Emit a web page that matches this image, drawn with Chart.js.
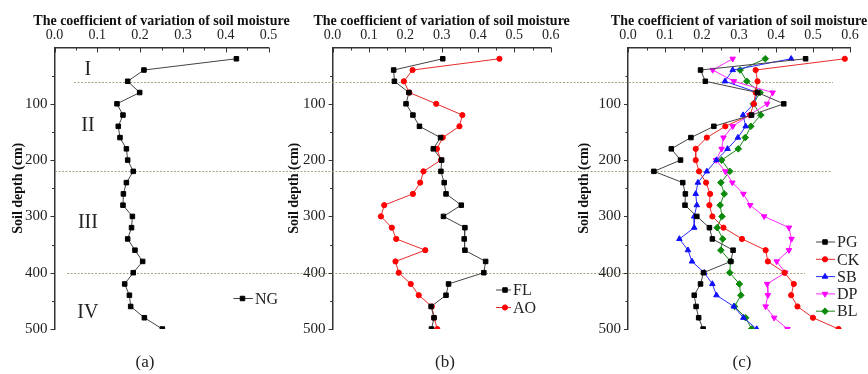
<!DOCTYPE html>
<html>
<head>
<meta charset="utf-8">
<script src="https://cdn.jsdelivr.net/npm/chart.js@4.4.1/dist/chart.umd.min.js"></script>
<style>
    body { margin: 0; background: #fff; width: 868px; height: 374px; overflow: hidden; position: relative; }
    .panel { position: absolute; top: 0; height: 374px; }
    canvas { display: block; }
</style>
</head>
<body>
<div class="panel" style="left:0;width:300px"><canvas id="chart-a"></canvas></div>
<div class="panel" style="left:284px;width:296px"><canvas id="chart-b"></canvas></div>
<div class="panel" style="left:572px;width:296px"><canvas id="chart-c"></canvas></div>
<script>
// Soil depth (cm) of each sample, top to bottom
const depths = [20, 40, 60, 80, 100, 120, 140, 160, 180, 200, 220, 240, 260,
                280, 300, 320, 340, 360, 380, 400, 420, 440, 460, 480, 500];

// (a)
const ngValues = [0.425, 0.209, 0.171, 0.199, 0.146, 0.160, 0.149, 0.153, 0.168, 0.171, 0.184, 0.168, 0.161,
                  0.160, 0.182, 0.180, 0.171, 0.188, 0.206, 0.184, 0.164, 0.175, 0.178, 0.210, 0.252];
// (b)
const flValues = [0.303, 0.168, 0.170, 0.210, 0.202, 0.221, 0.239, 0.297, 0.277, 0.300, 0.298, 0.307, 0.312,
                  0.354, 0.305, 0.364, 0.362, 0.364, 0.421, 0.416, 0.319, 0.312, 0.271, 0.279, 0.272];
const aoValues = [0.459, 0.220, 0.196, 0.211, 0.285, 0.357, 0.349, 0.303, 0.287, 0.298, 0.250, 0.241, 0.221,
                  0.142, 0.133, 0.163, 0.175, 0.255, 0.173, 0.182, 0.215, 0.237, 0.273, 0.279, 0.288];
// (c)
const pgValues = [0.480, 0.196, 0.209, 0.350, 0.421, 0.334, 0.232, 0.170, 0.117, 0.142, 0.070, 0.148, 0.155,
                  0.154, 0.186, 0.220, 0.228, 0.284, 0.278, 0.204, 0.196, 0.179, 0.184, 0.191, 0.203];
const ckValues = [0.586, 0.345, 0.350, 0.345, 0.340, 0.330, 0.263, 0.213, 0.183, 0.183, 0.192, 0.211, 0.222,
                  0.220, 0.228, 0.258, 0.308, 0.372, 0.378, 0.423, 0.448, 0.441, 0.458, 0.500, 0.569];
const sbValues = [0.441, 0.283, 0.262, 0.350, 0.340, 0.311, 0.318, 0.297, 0.269, 0.239, 0.213, 0.189, 0.183,
                  0.186, 0.179, 0.179, 0.139, 0.162, 0.173, 0.206, 0.228, 0.239, 0.286, 0.312, 0.348];
const dpValues = [0.283, 0.229, 0.286, 0.391, 0.376, 0.328, 0.283, 0.258, 0.253, 0.238, 0.263, 0.282, 0.312,
                  0.330, 0.368, 0.435, 0.442, 0.435, 0.402, 0.425, 0.376, 0.378, 0.372, 0.395, 0.431];
const blValues = [0.371, 0.303, 0.321, 0.357, 0.339, 0.359, 0.332, 0.317, 0.298, 0.253, 0.275, 0.251, 0.260,
                  0.249, 0.254, 0.241, 0.256, 0.251, 0.277, 0.275, 0.301, 0.305, 0.288, 0.318, 0.334];

// Layer boundaries (cm) and layer names
const layerBounds = [62, 220, 400];
const layerNames = ['I', 'II', 'III', 'IV'];
const layerNameDepths = [40, 139, 312, 471];

const xTitle = 'The coefficient of variation of soil moisture';
const yTitle = 'Soil depth (cm)';

const FONT = "'Liberation Serif', 'Times New Roman', 'DejaVu Serif', serif";

/**
 * One depth profile as a scatter line
 */
function series(label, values, color, lineColor, style, radius, rotation) {
    return {
        label: label,
        data: depths.map((d, i) => ({ x: values[i], y: d })),
        showLine: true,
        borderColor: lineColor,
        borderWidth: 1,
        backgroundColor: color,
        pointBackgroundColor: color,
        pointBorderColor: color,
        pointBorderWidth: 1,
        pointStyle: style,
        pointRadius: radius,
        pointHoverRadius: radius,
        pointRotation: rotation || 0
    };
}

/**
 * Decorations: top title, inner/outer ticks, boundary lines, legend, labels
 */
const decor = {
    id: 'decor',
    beforeDatasetsDraw(chart, args, o) {
        const { ctx, scales: { y } } = chart;
        ctx.save();
        ctx.strokeStyle = 'rgba(150, 150, 105, 0.85)';
        ctx.lineWidth = 1;
        ctx.setLineDash([2, 1.5]);
        layerBounds.forEach((d, i) => {
            const from = Math.max(o.spans[i][0], o.own[0]) - o.pageLeft;
            const to = Math.min(o.spans[i][1], o.own[1]) - o.pageLeft;
            if (to <= from) return;
            const py = Math.round(y.getPixelForValue(d)) + 0.5;
            ctx.beginPath();
            ctx.moveTo(from, py);
            ctx.lineTo(to, py);
            ctx.stroke();
        });
        ctx.restore();
    },
    afterDraw(chart, args, o) {
        const { ctx, chartArea: a, scales: { x, y } } = chart;
        ctx.save();

        // x title above tick labels
        ctx.fillStyle = '#111';
        ctx.font = `bold 14px ${FONT}`;
        ctx.textAlign = 'center';
        ctx.textBaseline = 'alphabetic';
        ctx.fillText(xTitle, (a.left + a.right) / 2, 25);

        // ticks: x inward, y outward
        ctx.strokeStyle = '#333';
        ctx.lineWidth = 1;
        const nx = Math.round(x.max / 0.05);
        for (let i = 0; i <= nx; i++) {
            const px = Math.round(x.getPixelForValue(i * 0.05)) + 0.5;
            const len = i % 2 === 0 ? 5 : 3;
            ctx.beginPath();
            ctx.moveTo(px, a.top);
            ctx.lineTo(px, a.top + len);
            ctx.stroke();
        }
        for (let v = 50; v <= y.max; v += 50) {
            const py = Math.round(y.getPixelForValue(v)) + 0.5;
            const len = v % 100 === 0 ? 4 : 2.5;
            ctx.beginPath();
            ctx.moveTo(a.left, py);
            ctx.lineTo(a.left - len, py);
            ctx.stroke();
        }

        // layer names
        if (o.layers) {
            ctx.fillStyle = '#222';
            ctx.font = `20px ${FONT}`;
            ctx.textAlign = 'center';
            ctx.textBaseline = 'middle';
            layerNames.forEach((name, i) => {
                ctx.fillText(name, x.getPixelForValue(0.078), y.getPixelForValue(layerNameDepths[i]));
            });
        }

        // legend
        const lg = o.legend;
        chart.data.datasets.forEach((ds, i) => {
            const mx = lg.x - o.pageLeft;
            const my = lg.y + i * lg.gap;
            ctx.strokeStyle = ds.borderColor;
            ctx.lineWidth = 1;
            ctx.beginPath();
            ctx.moveTo(mx - 9, my);
            ctx.lineTo(mx + lg.textOffset - 2, my);
            ctx.stroke();
            ctx.fillStyle = ds.pointBackgroundColor;
            ctx.strokeStyle = ds.pointBorderColor;
            Chart.helpers.drawPoint(ctx, {
                pointStyle: ds.pointStyle, radius: ds.pointRadius,
                rotation: ds.pointRotation, borderWidth: 1
            }, mx, my);
            ctx.fillStyle = '#222';
            ctx.font = `16px ${FONT}`;
            ctx.textAlign = 'left';
            ctx.textBaseline = 'middle';
            ctx.fillText(ds.label, mx + lg.textOffset, my + 1);
        });

        // panel label
        ctx.fillStyle = '#222';
        ctx.font = `17px ${FONT}`;
        ctx.textAlign = 'center';
        ctx.textBaseline = 'middle';
        ctx.fillText(o.panelLabel, o.panelLabelX - o.pageLeft, 363);

        ctx.restore();
    }
};

/**
 * Build one profile panel
 */
function buildPanel(id, datasets, opts) {
    return new Chart(document.getElementById(id), {
        type: 'scatter',
        data: { datasets: datasets },
        options: {
            responsive: true,
            maintainAspectRatio: false,
            animation: false,
            layout: { padding: { left: 0, right: opts.padRight, top: 0, bottom: 45 } },
            plugins: {
                legend: { display: false },
                tooltip: { enabled: false },
                decor: opts.decor
            },
            scales: {
                x: {
                    type: 'linear',
                    position: 'top',
                    min: 0,
                    max: opts.xMax,
                    grid: { display: false, drawTicks: false },
                    border: { display: true, color: '#333', width: 1.5 },
                    ticks: {
                        stepSize: 0.1,
                        padding: 4,
                        color: '#222',
                        font: { family: FONT, size: 14 },
                        callback: v => v.toFixed(1)
                    },
                    afterFit: s => { s.height = 47.5; }
                },
                y: {
                    type: 'linear',
                    min: 0,
                    max: 500,
                    reverse: true,
                    grid: { display: false, drawTicks: false },
                    border: { display: true, color: '#333', width: 1.5 },
                    ticks: {
                        stepSize: 100,
                        padding: 7,
                        color: '#222',
                        font: { family: FONT, size: 15 },
                        callback: v => (v === 0 ? '' : v)
                    },
                    title: {
                        display: true,
                        text: yTitle,
                        color: '#111',
                        font: { family: FONT, size: 14, weight: 'bold' },
                        padding: { top: opts.yTitlePad, bottom: 0 }
                    },
                    afterFit: s => { s.width = opts.yWidth; }
                }
            }
        },
        plugins: [decor]
    });
}

const spans = [[74, 833], [55, 832], [67, 805]];
const BLACK = '#000', BLACK_LINE = '#444';

buildPanel('chart-a', [
    series('NG', ngValues, BLACK, BLACK_LINE, 'rect', 3.2)
], {
    xMax: 0.5, yWidth: 54.5, padRight: 31.5, yTitlePad: 9.6,
    decor: {
        pageLeft: 0, own: [0, 290], spans: spans, layers: true,
        legend: { x: 242.5, y: 298.5, gap: 17.5, textOffset: 12.5 },
        panelLabel: '(a)', panelLabelX: 145
    }
});

buildPanel('chart-b', [
    series('FL', flValues, BLACK, BLACK_LINE, 'rect', 3.2),
    series('AO', aoValues, '#ff0000', '#e82a2a', 'circle', 2.6)
], {
    xMax: 0.6, yWidth: 48.6, padRight: 29.3, yTitlePad: 1.6,
    decor: {
        pageLeft: 284, own: [290, 580], spans: spans, layers: false,
        legend: { x: 505, y: 290, gap: 17.5, textOffset: 8 },
        panelLabel: '(b)', panelLabelX: 445
    }
});

buildPanel('chart-c', [
    series('PG', pgValues, BLACK, BLACK_LINE, 'rect', 3.2),
    series('CK', ckValues, '#ff0000', '#e82a2a', 'circle', 2.6),
    series('SB', sbValues, '#1010ff', '#2a2aff', 'triangle', 3.2),
    series('DP', dpValues, '#ff00ff', '#ff2aff', 'triangle', 3.2, 180),
    series('BL', blValues, '#0b8a0b', '#1a8a1a', 'rectRot', 3.3)
], {
    xMax: 0.6, yWidth: 56, padRight: 18, yTitlePad: 3.6,
    decor: {
        pageLeft: 572, own: [580, 868], spans: spans, layers: false,
        legend: { x: 825, y: 242, gap: 17.3, textOffset: 12 },
        panelLabel: '(c)', panelLabelX: 742
    }
});
</script>
</body>
</html>
